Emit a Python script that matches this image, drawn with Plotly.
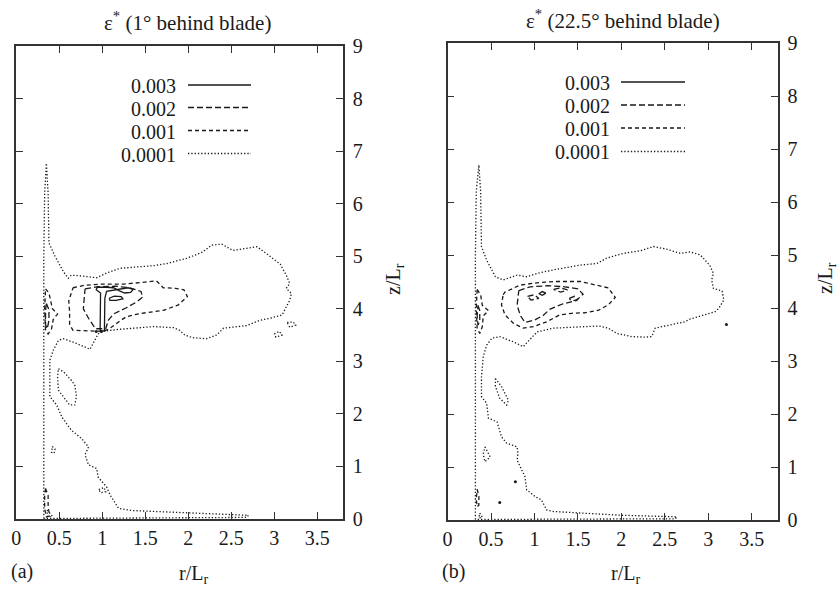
import plotly.graph_objects as go

W, H = 840, 589

# ---------------- data (r/L_r, z/L_r) ----------------
LEVELS = ["0.003", "0.002", "0.001", "0.0001"]
R_TICKS = [0, 0.5, 1, 1.5, 2, 2.5, 3, 3.5]
R_TICK_TEXT = ["0", "0.5", "1", "1.5", "2", "2.5", "3", "3.5"]
Z_TICKS = [0, 1, 2, 3, 4, 5, 6, 7, 8, 9]
TITLES = ["ε<sup>*</sup> (1° behind blade)", "ε<sup>*</sup> (22.5° behind blade)"]
PANEL_TAGS = ["(a)", "(b)"]

# ---- panel (a): 1 deg behind blade ----
a_0001_outer = [(0.32, 0.01), (0.32, 3.0), (0.32, 5.0), (0.33, 6.2), (0.35, 6.77), (0.37, 6.2),
                (0.38, 5.6), (0.38, 5.25), (0.45, 5.0), (0.55, 4.7), (0.605, 4.58), (0.64, 4.64),
                (0.78, 4.62), (0.935, 4.59), (1.05, 4.68), (1.206, 4.77), (1.44, 4.80), (1.60, 4.82),
                (1.75, 4.86), (1.98, 4.96), (2.17, 5.08), (2.27, 5.21), (2.39, 5.23), (2.52, 5.11),
                (2.68, 5.15), (2.80, 5.18), (2.91, 5.05), (3.07, 4.85), (3.14, 4.64), (3.18, 4.48),
                (3.14, 4.39), (3.20, 4.29), (3.18, 4.16), (3.14, 4.04), (3.09, 3.88), (2.95, 3.82),
                (2.83, 3.78), (2.68, 3.68), (2.41, 3.63), (2.33, 3.50), (2.21, 3.43), (2.05, 3.45),
                (1.96, 3.50), (1.90, 3.59), (1.83, 3.64), (1.60, 3.66), (1.40, 3.64), (1.20, 3.61),
                (1.05, 3.58), (0.97, 3.56), (0.935, 3.47), (0.857, 3.23), (0.70, 3.34), (0.55, 3.43),
                (0.49, 3.40), (0.43, 3.21), (0.39, 3.02), (0.39, 2.60), (0.39, 2.33), (0.47, 2.17),
                (0.53, 1.94), (0.64, 1.69), (0.76, 1.53), (0.84, 1.37), (0.80, 1.22), (0.84, 1.03),
                (0.935, 0.96), (0.95, 0.80), (1.05, 0.61), (1.09, 0.46), (1.19, 0.20), (1.36, 0.16),
                (1.67, 0.14), (2.14, 0.11), (2.45, 0.09), (2.70, 0.07), (2.68, 0.03), (2.20, 0.025),
                (1.50, 0.025), (0.80, 0.02), (0.42, 0.02), (0.32, 0.01)]
a_0001_isl1 = [(0.49, 2.86), (0.55, 2.80), (0.64, 2.64), (0.68, 2.55), (0.70, 2.33), (0.68, 2.17),
               (0.62, 2.17), (0.55, 2.33), (0.49, 2.45), (0.48, 2.71), (0.49, 2.86)]
a_0001_isl2 = [(0.42, 1.38), (0.45, 1.33), (0.44, 1.25), (0.41, 1.27), (0.42, 1.38)]
a_0001_isl3 = [(0.96, 0.56), (1.02, 0.60), (1.04, 0.52), (0.98, 0.50), (0.96, 0.56)]
a_0001_isl4 = [(3.15, 3.74), (3.22, 3.75), (3.25, 3.69), (3.18, 3.65), (3.15, 3.74)]
a_0001_isl5 = [(3.00, 3.52), (3.06, 3.57), (3.09, 3.50), (3.02, 3.46), (3.00, 3.52)]
a_0001_isl6 = [(0.36, 0.17), (0.42, 0.05), (0.36, 0.04), (0.36, 0.17)]
a_001_main = [(0.66, 4.40), (0.80, 4.45), (1.00, 4.47), (1.25, 4.47), (1.45, 4.50), (1.63, 4.53),
              (1.71, 4.40), (1.85, 4.39), (1.95, 4.36), (1.99, 4.23), (1.88, 4.07), (1.71, 3.97),
              (1.44, 3.91), (1.28, 3.85), (1.19, 3.75), (1.09, 3.63), (1.02, 3.57), (0.85, 3.58),
              (0.66, 3.59), (0.62, 3.70), (0.62, 3.95), (0.61, 4.15), (0.66, 4.40)]
a_001_wall = [(0.34, 4.38), (0.38, 4.30), (0.40, 4.15), (0.42, 4.00), (0.48, 3.90), (0.43, 3.80),
              (0.41, 3.62), (0.37, 3.52), (0.34, 3.60), (0.33, 4.00), (0.34, 4.38)]
a_001_floor = [(0.34, 0.58), (0.37, 0.45), (0.37, 0.22), (0.39, 0.06), (0.35, 0.04), (0.33, 0.20),
               (0.33, 0.45), (0.34, 0.58)]
a_002_main = [(0.80, 4.38), (0.95, 4.42), (1.15, 4.43), (1.32, 4.40), (1.45, 4.33), (1.47, 4.22),
              (1.40, 4.13), (1.28, 4.02), (1.13, 3.90), (1.07, 3.78), (1.04, 3.62), (0.92, 3.62),
              (0.84, 3.82), (0.78, 4.00), (0.79, 4.20), (0.80, 4.38)]
a_002_wall = [(0.35, 4.10), (0.38, 3.98), (0.38, 3.78), (0.36, 3.62), (0.34, 3.70), (0.34, 3.95),
              (0.35, 4.10)]
a_003_main = [(0.975, 3.58), (0.98, 4.30), (0.93, 4.36), (0.94, 4.41), (1.05, 4.41), (1.13, 4.40),
              (1.20, 4.34), (1.26, 4.30), (1.33, 4.31), (1.36, 4.37), (1.30, 4.40), (1.22, 4.38),
              (1.14, 4.35), (1.05, 4.33), (1.03, 4.20), (1.025, 3.58), (0.975, 3.58)]
a_003_loop = [(1.08, 4.20), (1.14, 4.24), (1.22, 4.23), (1.24, 4.19), (1.16, 4.16), (1.09, 4.16),
              (1.08, 4.20)]
a_dots = [(0.93, 3.57), (0.99, 3.57)]

# ---- panel (b): 22.5 deg behind blade ----
b_0001_outer = [(0.32, 0.01), (0.32, 3.0), (0.32, 5.0), (0.33, 6.2), (0.36, 6.70), (0.38, 6.2),
                (0.39, 5.6), (0.39, 5.16), (0.45, 4.90), (0.55, 4.59), (0.64, 4.53), (0.80, 4.62),
                (0.91, 4.59), (1.05, 4.66), (1.22, 4.72), (1.38, 4.76), (1.53, 4.81), (1.72, 4.84),
                (1.83, 4.94), (2.02, 5.03), (2.22, 5.08), (2.37, 5.16), (2.52, 5.11), (2.68, 5.03),
                (2.79, 5.06), (2.91, 5.00), (3.02, 4.80), (3.06, 4.65), (3.04, 4.53), (3.06, 4.37),
                (3.16, 4.32), (3.18, 4.15), (3.12, 3.99), (3.08, 3.93), (2.95, 3.87), (2.79, 3.79),
                (2.73, 3.74), (2.50, 3.66), (2.39, 3.62), (2.35, 3.46), (2.27, 3.45), (2.12, 3.46),
                (1.95, 3.52), (1.85, 3.62), (1.74, 3.66), (1.60, 3.65), (1.45, 3.64), (1.22, 3.62),
                (1.03, 3.55), (0.95, 3.40), (0.87, 3.27), (0.76, 3.36), (0.60, 3.46), (0.51, 3.43),
                (0.45, 3.30), (0.41, 3.08), (0.39, 2.70), (0.39, 2.33), (0.45, 2.20), (0.47, 1.92),
                (0.57, 1.85), (0.62, 1.57), (0.68, 1.45), (0.80, 1.38), (0.81, 1.26), (0.80, 1.13),
                (0.85, 0.94), (0.89, 0.82), (0.91, 0.57), (1.01, 0.44), (1.08, 0.38), (1.14, 0.19),
                (1.22, 0.16), (1.60, 0.13), (1.99, 0.09), (2.64, 0.06), (2.62, 0.02), (2.00, 0.02),
                (1.20, 0.02), (0.45, 0.02), (0.32, 0.01)]
b_0001_isl1 = [(0.55, 2.67), (0.62, 2.52), (0.70, 2.26), (0.68, 2.17), (0.60, 2.30), (0.55, 2.52),
               (0.55, 2.67)]
b_0001_isl2 = [(0.43, 1.38), (0.49, 1.19), (0.43, 1.10), (0.41, 1.24), (0.43, 1.38)]
b_0001_isl3 = [(0.37, 0.13), (0.40, 0.05), (0.36, 0.04), (0.37, 0.13)]
b_001_main = [(0.64, 4.25), (0.66, 4.30), (0.83, 4.43), (1.00, 4.47), (1.22, 4.50), (1.53, 4.50),
              (1.74, 4.42), (1.85, 4.38), (1.93, 4.20), (1.85, 4.06), (1.74, 3.96), (1.58, 3.91),
              (1.43, 3.90), (1.29, 3.87), (1.14, 3.74), (0.99, 3.65), (0.87, 3.62), (0.76, 3.71),
              (0.66, 3.87), (0.62, 4.06), (0.64, 4.25)]
b_001_wall = [(0.34, 4.35), (0.38, 4.25), (0.40, 4.05), (0.47, 3.95), (0.41, 3.85), (0.40, 3.65),
              (0.37, 3.52), (0.34, 3.62), (0.33, 4.00), (0.34, 4.35)]
b_001_floor = [(0.34, 0.58), (0.36, 0.45), (0.36, 0.28), (0.34, 0.25), (0.33, 0.40), (0.34, 0.58)]
b_002_main = [(0.82, 4.33), (0.95, 4.40), (1.15, 4.42), (1.35, 4.40), (1.50, 4.36), (1.56, 4.26),
              (1.48, 4.14), (1.33, 4.08), (1.18, 3.98), (1.10, 3.86), (1.00, 3.77), (0.89, 3.73),
              (0.84, 3.85), (0.80, 4.05), (0.82, 4.33)]
b_002_loop1 = [(1.22, 4.35), (1.30, 4.38), (1.38, 4.34), (1.30, 4.30), (1.22, 4.35)]
b_002_loop2 = [(0.92, 4.22), (1.00, 4.25), (1.05, 4.18), (0.96, 4.15), (0.92, 4.22)]
b_002_loop3 = [(1.40, 4.18), (1.46, 4.22), (1.50, 4.16), (1.43, 4.13), (1.40, 4.18)]
b_002_wall = [(0.35, 4.05), (0.37, 3.95), (0.37, 3.75), (0.35, 3.68), (0.34, 3.85), (0.35, 4.05)]
b_003_loop = [(1.05, 4.27), (1.09, 4.31), (1.13, 4.28), (1.09, 4.24), (1.05, 4.27)]
b_dots = [(0.78, 0.72), (0.60, 0.33), (3.21, 3.69)]

# ---------------- styles ----------------
INK = "#1a1a1a"
FONT = "Liberation Serif, Times New Roman, serif"
FS = 20
STYLE = {
    "0.003": dict(dash="solid", width=1.3),
    "0.002": dict(dash="6px,3px", width=1.3),
    "0.001": dict(dash="4px,3px", width=1.3),
    "0.0001": dict(dash="1.3px,2px", width=1.3),
}

panels = [
    ("x", "y", [("0.0001", a_0001_outer), ("0.0001", a_0001_isl1), ("0.0001", a_0001_isl2),
                ("0.0001", a_0001_isl3), ("0.0001", a_0001_isl4), ("0.0001", a_0001_isl5),
                ("0.0001", a_0001_isl6), ("0.001", a_001_main), ("0.001", a_001_wall),
                ("0.001", a_001_floor), ("0.002", a_002_main), ("0.002", a_002_wall),
                ("0.003", a_003_main), ("0.003", a_003_loop)], a_dots),
    ("x2", "y2", [("0.0001", b_0001_outer), ("0.0001", b_0001_isl1), ("0.0001", b_0001_isl2),
                  ("0.0001", b_0001_isl3), ("0.001", b_001_main), ("0.001", b_001_wall),
                  ("0.001", b_001_floor), ("0.002", b_002_main), ("0.002", b_002_loop1),
                  ("0.002", b_002_loop2), ("0.002", b_002_loop3), ("0.002", b_002_wall),
                  ("0.003", b_003_loop)], b_dots),
]

fig = go.Figure()
for xa, ya, contours, dots in panels:
    for level, pts in contours:
        st = STYLE[level]
        fig.add_trace(go.Scatter(
            x=[p[0] for p in pts], y=[p[1] for p in pts], mode="lines",
            line=dict(color=INK, width=st["width"], dash=st["dash"]),
            xaxis=xa, yaxis=ya, showlegend=False, hoverinfo="skip"))
    fig.add_trace(go.Scatter(
        x=[p[0] for p in dots], y=[p[1] for p in dots], mode="markers",
        marker=dict(color=INK, size=3), xaxis=xa, yaxis=ya, showlegend=False, hoverinfo="skip"))

# ---------------- axes ----------------
def px(xp):
    return xp / W

def py(yp):
    return (H - yp) / H

axis_common = dict(showline=True, linecolor="#333", linewidth=1.5, mirror="ticks",
                   ticks="inside", ticklen=7, tickwidth=1.2, tickcolor="#333",
                   showgrid=False, zeroline=False, automargin=False,
                   tickfont=dict(family=FONT, size=FS, color=INK))

domains = [((16.3, 343.0), (46.0, 519.0)), ((447.6, 777.7), (43.0, 520.0))]
layout_axes = {}
for i, ((x0, x1), (ytop, ybot)) in enumerate(domains):
    sx = "" if i == 0 else "2"
    layout_axes["xaxis" + sx] = dict(axis_common, domain=[px(x0), px(x1)], range=[0, 3.8],
                                     tickvals=R_TICKS, ticktext=R_TICK_TEXT,
                                     anchor="y" + sx)
    layout_axes["yaxis" + sx] = dict(axis_common, domain=[py(ybot), py(ytop)], range=[0, 9],
                                     tickvals=Z_TICKS, side="right", anchor="x" + sx,
                                     ticklabelstandoff=4)

fig.update_layout(width=W, height=H, margin=dict(l=0, r=0, t=0, b=0, pad=0),
                  paper_bgcolor="white", plot_bgcolor="white",
                  font=dict(family=FONT, size=FS, color=INK), **layout_axes)

# ---------------- text ----------------
ann = []
def text(x, y, s, anchor="center", angle=0, size=FS):
    ann.append(dict(x=px(x), y=py(y), xref="paper", yref="paper", text=s, showarrow=False,
                    xanchor=anchor, yanchor="middle", textangle=angle,
                    font=dict(family=FONT, size=size, color=INK)))

title_pos = [(187, 21), (623, 20)]
tag_pos = [(22, 571), (453, 571)]
rlab_pos = [(193, 574), (625, 574)]
zlab_pos = [(394, 279), (826, 278)]
for i in range(2):
    text(*title_pos[i], TITLES[i], size=21)
    text(*tag_pos[i], PANEL_TAGS[i])
    text(*rlab_pos[i], "r/L<sub>r</sub>")
    text(*zlab_pos[i], "z/L<sub>r</sub>", angle=-90)

# legend (text to the left, sample line to the right)
legend_geom = [dict(tx=178, x0=188, x1=251, ys=[85, 107.5, 130.5, 153.5]),
               dict(tx=612, x0=621, x1=685, ys=[82, 105, 128, 151.5])]
shapes = []
for g in legend_geom:
    for lev, yy in zip(LEVELS, g["ys"]):
        text(g["tx"], yy + 1, lev, anchor="right")
        st = STYLE[lev]
        shapes.append(dict(type="line", xref="paper", yref="paper",
                           x0=px(g["x0"]), x1=px(g["x1"]), y0=py(yy), y1=py(yy),
                           line=dict(color=INK, width=st["width"], dash=st["dash"])))

fig.update_layout(annotations=ann, shapes=shapes)
fig.write_html("out.html", config={"displayModeBar": False},
               post_script="document.body.style.margin='0';document.body.style.overflow='hidden';")
